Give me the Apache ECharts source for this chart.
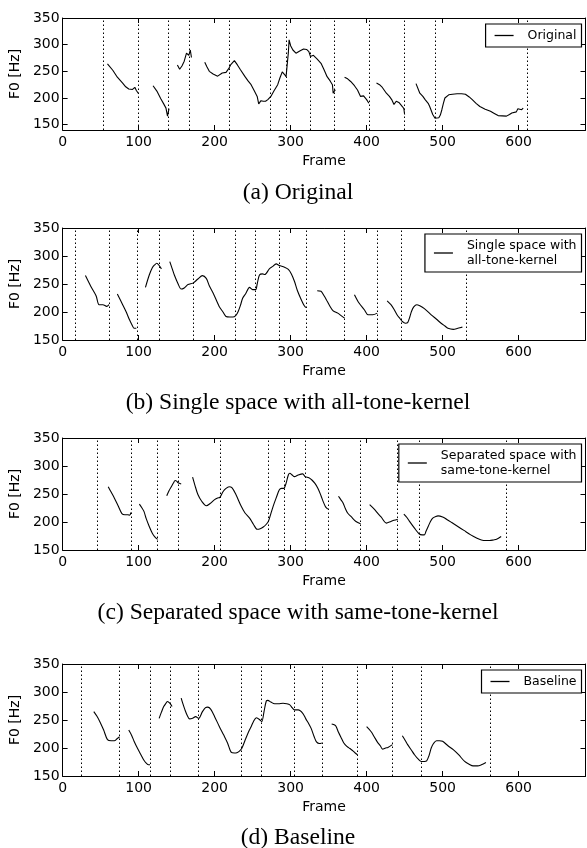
<!DOCTYPE html>
<html><head><meta charset="utf-8">
<script src="https://cdn.jsdelivr.net/npm/echarts@6/dist/echarts.min.js"></script>
<style>html,body{margin:0;padding:0;background:#fff}#c{width:587px;height:848px}</style>
</head><body><div id="c"></div>
<script>
// ---------- tick labels ----------
const frameTicks = [0, 100, 200, 300, 400, 500, 600];
const f0Ticks = [150, 200, 250, 300, 350];

// ---------- (a) Original : [frame, F0 Hz] segments ----------
const originalF0 = [
  [[59,264],[66,252],[72,239],[79,228],[83,221],[87,217],[92,216],[95,220],[97,214],[100,208]],
  [[119,223],[124,213],[129,199],[133,189],[136,181],[138,166],[140,180]],
  [[151,262],[154,254],[157,260],[160,269],[163,284],[165,286],[166,280],[168,290],[169.5,276]],
  [[187,267],[190,258],[193,250],[198,245],[204,241],[210,247],[215,248],[219,256],[221,262],[226,270],[230,262],[234,253],[240,240],[244,232],[248,225],[252,214],[256,203],[258,189],[261,195],[264,194],[267,194],[270,197],[274,203],[278,213],[283,225],[286,238],[289,249],[292,244],[294,240],[296,243],[297,285],[298,309],[300,298],[303,290],[307,284],[312,288],[317,292],[321,291],[324,287],[326,278],[330,280],[335,273],[340,265],[344,253],[348,240],[352,232],[355,225],[356,209],[358,214],[359,215]],
  [[371,239],[375,236],[379,231],[384,223],[388,215],[392,203],[396,204],[400,197],[403,190]],
  [[413,228],[417,225],[420,221],[426,209],[430,203],[433,197],[436,188],[439,194],[443,191],[447,184],[449,180],[450,169]],
  [[465,227],[470,209],[474,203],[477,197],[481,190],[483,184],[487,169],[490,162],[495,163],[497,168],[499,178],[501,190],[503,200],[508,206],[513,207],[519,208],[525,208],[530,207],[535,202],[539,197],[544,190],[549,184],[556,179],[563,175],[568,171],[573,167],[584,166],[588,169],[591,172],[597,174],[599,180],[601,183],[604,178],[606,181]]
];
const originalBounds = [53, 100, 139, 166, 219, 273, 294, 326, 358, 403, 450, 490, 611];

// ---------- (b) Single space with all-tone-kernel ----------
const singleF0 = [
  [[30,265],[37,246],[44,229],[48,213],[53,213],[58,210],[61,213]],
  [[72,232],[79,213],[84,199],[88,186],[92,175],[94,171],[97,171]],
  [[109,244],[114,266],[118,279],[121,284],[124,287],[127,283],[130,277]],
  [[141,290],[144,278],[147,266],[152,250],[156,241],[160,243],[165,249],[172,252],[178,259],[184,265],[189,260],[193,247],[198,234],[206,210],[211,200],[215,192],[220,191],[224,191],[228,194],[231,201],[234,212],[237,225],[241,233],[246,244],[250,240],[254,240],[256,250],[259,266],[263,268],[266,267],[272,277],[276,281],[281,286],[285,283],[292,280],[297,276],[301,268],[305,255],[309,238],[314,222],[318,211],[320,208]],
  [[335,238],[340,237],[344,229],[347,222],[351,212],[356,202],[362,198],[366,194],[371,189]],
  [[384,231],[390,216],[397,204],[402,195],[408,195],[414,198]],
  [[427,220],[432,213],[436,205],[440,195],[444,188],[447,183],[451,180],[454,181],[457,192],[459,201],[462,209],[466,213],[470,211],[476,206],[485,195],[492,187],[498,180],[503,175],[507,171],[514,169],[520,171],[526,173]]
];
const singleBounds = [16, 61, 98, 127, 172, 227, 253, 285, 320, 370, 414, 446, 531];

// ---------- (c) Separated space with same-tone-kernel ----------
const separatedF0 = [
  [[60,263],[64,253],[68,243],[73,229],[78,215],[82,213],[86,213],[88,212],[90,217]],
  [[101,232],[104,226],[107,219],[110,206],[114,192],[118,180],[121,174],[125,169]],
  [[137,247],[140,256],[143,263],[146,270],[148,274],[150,273],[152,270],[156,268]],
  [[171,280],[174,266],[178,249],[183,237],[189,229],[194,233],[200,240],[204,243],[207,244],[211,254],[215,260],[219,263],[223,261],[228,249],[235,228],[240,216],[246,207],[251,196],[256,187],[260,188],[264,191],[268,196],[271,202],[274,215],[277,228],[281,243],[285,257],[288,260],[291,260],[294,269],[297,284],[299,287],[302,284],[305,281],[310,284],[316,286],[319,281],[324,279],[328,275],[332,269],[336,260],[340,247],[343,236],[346,227],[349,223]],
  [[363,246],[366,240],[369,234],[372,224],[375,216],[380,209],[386,201],[392,197]],
  [[404,231],[410,223],[415,215],[419,209],[426,198],[432,201],[436,203],[441,205]],
  [[449,214],[453,208],[456,202],[463,189],[469,179],[473,177],[476,177],[478,183],[481,192],[484,201],[487,207],[491,210],[494,211],[500,209],[505,205],[512,199],[520,192],[528,185],[537,177],[544,172],[551,168],[557,167],[562,167],[567,168],[571,169],[577,174]]
];
const separatedBounds = [45, 90, 125, 152, 207, 270, 291, 319, 349, 391, 440, 469, 584];

// ---------- (d) Baseline ----------
const baselineF0 = [
  [[41,265],[45,257],[49,247],[54,232],[59,215],[64,213],[68,213],[72,217],[75,220]],
  [[87,232],[91,222],[94,212],[99,198],[103,188],[107,178],[110,173],[113,170],[115,170]],
  [[127,253],[130,264],[133,274],[136,280],[138,283],[141,280],[144,274]],
  [[156,289],[158,280],[161,268],[164,258],[167,252],[171,253],[175,256],[179,253],[184,265],[188,272],[191,273],[195,269],[200,256],[206,239],[212,223],[217,209],[222,192],[226,191],[230,192],[233,195],[236,200],[241,217],[245,230],[248,238],[251,247],[255,254],[259,251],[262,247],[265,265],[268,284],[270,285],[274,282],[279,279],[284,279],[290,280],[295,279],[299,277],[302,272],[305,268],[310,268],[316,262],[320,252],[324,243],[327,235],[331,220],[334,211],[338,208],[341,209]],
  [[354,243],[358,241],[360,238],[363,228],[367,217],[370,209],[374,203],[378,199],[382,195],[385,191],[388,188]],
  [[400,238],[406,229],[410,220],[414,211],[418,204],[421,198],[425,200],[428,201],[434,206]],
  [[447,222],[451,213],[454,206],[459,196],[463,188],[468,180],[472,176],[476,176],[479,177],[482,186],[485,200],[488,208],[492,213],[496,213],[500,212],[507,204],[514,197],[521,188],[529,176],[535,171],[540,168],[546,168],[551,170],[557,174]]
];
const baselineBounds = [25, 75, 115, 142, 179, 235, 262, 305, 341, 388, 434, 472, 563];

const seriesNames = ['Original', 'Single space with\nall-tone-kernel', 'Separated space with\nsame-tone-kernel', 'Baseline'];
const captions = ['(a) Original', '(b) Single space with all-tone-kernel', '(c) Separated space with same-tone-kernel', '(d) Baseline'];

// ---------- layout (positions / styles) ----------
const panels = [
  { segs: originalF0,  bounds: originalBounds,  top: 18,  yMin: 140, smooth: false, capY: 193 },
  { segs: singleF0,    bounds: singleBounds,    top: 228, yMin: 150, smooth: 0.3,   capY: 403 },
  { segs: separatedF0, bounds: separatedBounds, top: 438, yMin: 150, smooth: 0.3,   capY: 613 },
  { segs: baselineF0,  bounds: baselineBounds,  top: 664, yMin: 150, smooth: 0.3,   capY: 838 }
];
const X_MAX = 688;
const SANS = 'DejaVu Sans';

function joinSegments(segs) {
  const out = [];
  segs.forEach((s, i) => {
    if (i > 0) out.push([(segs[i - 1][segs[i - 1].length - 1][0] + s[0][0]) / 2, '-']);
    s.forEach(p => out.push(p));
  });
  return out;
}

const grid = [], xAxis = [], yAxis = [], series = [], legend = [], graphic = [];
const lineCol = '#000';
panels.forEach((p, i) => {
  grid.push({ left: 61.7, right: 1.5, top: p.top, height: 112, containLabel: false });
  const tickStyle = { show: true, inside: true, length: 5, lineStyle: { color: lineCol, width: 1 } };
  xAxis.push({
    gridIndex: i, type: 'value', min: 0, max: X_MAX, position: 'bottom',
    axisLine: { show: true, onZero: false, lineStyle: { color: lineCol, width: 1 } },
    axisTick: Object.assign({ customValues: frameTicks }, tickStyle),
    axisLabel: { customValues: frameTicks, color: '#000', fontSize: 14, fontFamily: SANS, margin: 5 },
    splitLine: { show: false },
    name: 'Frame', nameLocation: 'middle', nameGap: 24,
    nameTextStyle: { color: '#000', fontSize: 14, fontFamily: SANS }
  });
  xAxis.push({
    gridIndex: i, type: 'value', min: 0, max: X_MAX, position: 'top',
    axisLine: { show: true, onZero: false, lineStyle: { color: lineCol, width: 1 } },
    axisTick: Object.assign({ customValues: frameTicks }, tickStyle),
    axisLabel: { show: false }, splitLine: { show: false }
  });
  yAxis.push({
    gridIndex: i, type: 'value', min: p.yMin, max: 350, position: 'left',
    axisLine: { show: true, onZero: false, lineStyle: { color: lineCol, width: 1 } },
    axisTick: Object.assign({ customValues: f0Ticks }, tickStyle),
    axisLabel: { customValues: f0Ticks, color: '#000', fontSize: 14, fontFamily: SANS, margin: 3 },
    splitLine: { show: false },
    name: 'F0 [Hz]', nameLocation: 'middle', nameGap: 34,
    nameTextStyle: { color: '#000', fontSize: 14, fontFamily: SANS }
  });
  yAxis.push({
    gridIndex: i, type: 'value', min: p.yMin, max: 350, position: 'right',
    axisLine: { show: true, onZero: false, lineStyle: { color: lineCol, width: 1 } },
    axisTick: Object.assign({ customValues: f0Ticks }, tickStyle),
    axisLabel: { show: false }, splitLine: { show: false }
  });
  series.push({
    name: seriesNames[i], type: 'line', xAxisIndex: 2 * i, yAxisIndex: 2 * i,
    data: joinSegments(p.segs), showSymbol: false, symbol: 'none', smooth: p.smooth,
    connectNulls: false, silent: true, animation: false,
    lineStyle: { color: '#000', width: 1.1 }, itemStyle: { color: '#000' },
    markLine: {
      silent: true, symbol: ['none', 'none'], animation: false,
      label: { show: false },
      lineStyle: { color: '#000', width: 1, type: [1.5, 2.5] },
      data: p.bounds.map(b => ({ xAxis: b }))
    }
  });
  legend.push({
    data: [seriesNames[i]], right: 5.5, top: p.top + 6, orient: 'vertical',
    z: 20, zlevel: 0,
    icon: 'rect', itemWidth: 19, itemHeight: 1.3,
    backgroundColor: '#fff',
    borderColor: '#000', borderWidth: 1.2, borderRadius: 0,
    padding: [4, 5, 4, 9], selectedMode: false,
    textStyle: { color: '#000', fontSize: 12.5, fontFamily: SANS, lineHeight: 15, padding: [0, 0, 0, 9] }
  });
  graphic.push({
    type: 'text', x: 298, y: p.capY,
    style: { text: captions[i], fill: '#000', font: '23.6px "Liberation Serif"', align: 'center', verticalAlign: 'middle' }
  });
});

const chart = echarts.init(document.getElementById('c'), null, { renderer: 'canvas' });
chart.setOption({ animation: false, backgroundColor: '#fff', grid, xAxis, yAxis, series, legend, graphic });
</script>
</body></html>
